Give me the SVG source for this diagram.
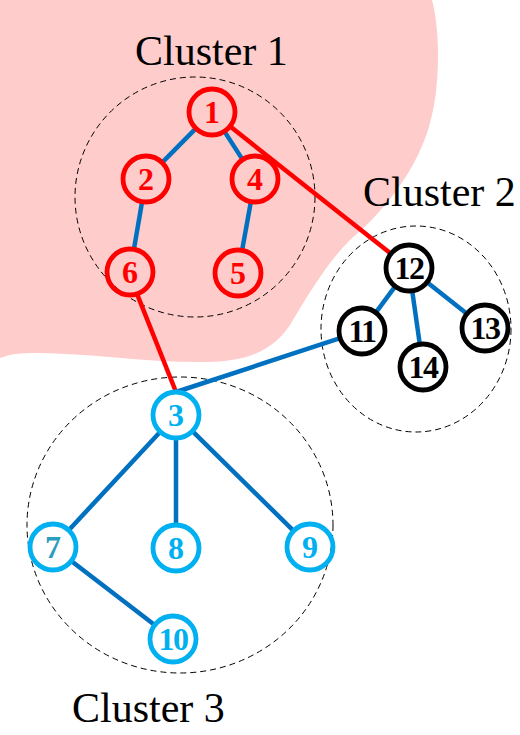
<svg xmlns="http://www.w3.org/2000/svg" width="520" height="735" viewBox="0 0 520 735">
<style>
.bg{fill:#FFFFFF}
.blob{fill:#FFCCCC;stroke:none}
.cl{fill:none;stroke:#000;stroke-width:1;stroke-dasharray:6 4}
.e{stroke:#0070C0;stroke-width:4.5;fill:none}
.er{stroke:#FF0000;stroke-width:4.5;fill:none}
.n{fill:none;stroke-width:4.8}
.red .n{stroke:#FF0000}
.blk .n{stroke:#000}
.cyn .n{stroke:#00B0F0}
.lbl{font-family:"Liberation Serif","Times New Roman",serif;font-weight:bold;font-size:32px;text-anchor:middle}
.red .lbl{fill:#FF0000}
.blk .lbl{fill:#000}
.cyn .lbl{fill:#00B0F0}
.ct{font-family:"Liberation Serif","Times New Roman",serif;font-size:42px;fill:#000;text-anchor:start}
</style>
<rect class="bg" x="0" y="0" width="520" height="735"/>
<path class="blob" d="M0,0 L432,0 C440,30 440,80 432,115 C420,170 380,215 350,240 C325,265 305,300 290,325 C270,355 240,362 200,362 C140,362 80,352 30,353 C15,353 5,356 0,358 Z"/>
<g id="clusters">
<circle class="cl" cx="195" cy="197" r="120"/>
<ellipse class="cl" cx="416" cy="329" rx="95" ry="103"/>
<ellipse class="cl" cx="180" cy="525" rx="153" ry="148"/>
</g>
<g id="connectors">
<line class="e" x1="195.9" y1="128.4" x2="162.1" y2="162.6"/>
<line class="e" x1="224.4" y1="131.4" x2="242.6" y2="159.6"/>
<line class="e" x1="142.1" y1="201.7" x2="133.9" y2="249.3"/>
<line class="e" x1="250.9" y1="201.6" x2="242.1" y2="250.4"/>
<line class="er" x1="230.0" y1="126.3" x2="391.0" y2="253.7"/>
<line class="er" x1="137.0" y1="293.9" x2="176" y2="392"/>
<line class="e" x1="340.1" y1="338.2" x2="176" y2="392"/>
<line class="e" x1="395.2" y1="286.4" x2="375.8" y2="312.6"/>
<line class="e" x1="412.2" y1="290.8" x2="419.8" y2="344.2"/>
<line class="e" x1="427.1" y1="282.3" x2="466.9" y2="313.7"/>
<line class="e" x1="160.3" y1="431.8" x2="68.7" y2="530.2"/>
<line class="e" x1="176" y1="438" x2="176" y2="525"/>
<line class="e" x1="192.4" y1="431.1" x2="293.6" y2="530.9"/>
<line class="e" x1="71.3" y1="561.0" x2="154.7" y2="625.0"/>
</g>
<g class="red">
<g id="n1"><circle class="n" cx="212" cy="112" r="23"/><text class="lbl" x="212" y="123">1</text></g>
<g id="n2"><circle class="n" cx="146" cy="179" r="23"/><text class="lbl" x="146" y="190">2</text></g>
<g id="n4"><circle class="n" cx="255" cy="179" r="23"/><text class="lbl" x="255" y="190">4</text></g>
<g id="n6"><circle class="n" cx="130" cy="272" r="23"/><text class="lbl" x="130" y="283">6</text></g>
<g id="n5"><circle class="n" cx="238" cy="273" r="23"/><text class="lbl" x="238" y="284">5</text></g>
</g>
<g class="blk">
<g id="n12"><circle class="n" cx="409" cy="268" r="23"/><text class="lbl" x="409" y="279" letter-spacing="-1.5">12</text></g>
<g id="n11"><circle class="n" cx="362" cy="331" r="23"/><text class="lbl" x="362" y="342" letter-spacing="-1.5">11</text></g>
<g id="n13"><circle class="n" cx="485" cy="328" r="23"/><text class="lbl" x="485" y="339" letter-spacing="-1.5">13</text></g>
<g id="n14"><circle class="n" cx="423" cy="367" r="23"/><text class="lbl" x="423" y="378" letter-spacing="-1.5">14</text></g>
</g>
<g class="cyn">
<g id="n3"><circle class="n" cx="176" cy="415" r="23"/><text class="lbl" x="176" y="426">3</text></g>
<g id="n7"><circle class="n" cx="53" cy="547" r="23"/><text class="lbl" x="53" y="558" style="fill:#2A9DC0">7</text></g>
<g id="n8"><circle class="n" cx="176" cy="548" r="23"/><text class="lbl" x="176" y="559">8</text></g>
<g id="n9"><circle class="n" cx="310" cy="547" r="23"/><text class="lbl" x="310" y="558">9</text></g>
<g id="n10"><circle class="n" cx="173" cy="639" r="23"/><text class="lbl" x="173" y="650" letter-spacing="-1.5">10</text></g>
</g>
<g id="labels">
<text class="ct" x="135" y="65">Cluster 1</text>
<text class="ct" x="363" y="206">Cluster 2</text>
<text class="ct" x="72" y="722">Cluster 3</text>
</g>
</svg>
